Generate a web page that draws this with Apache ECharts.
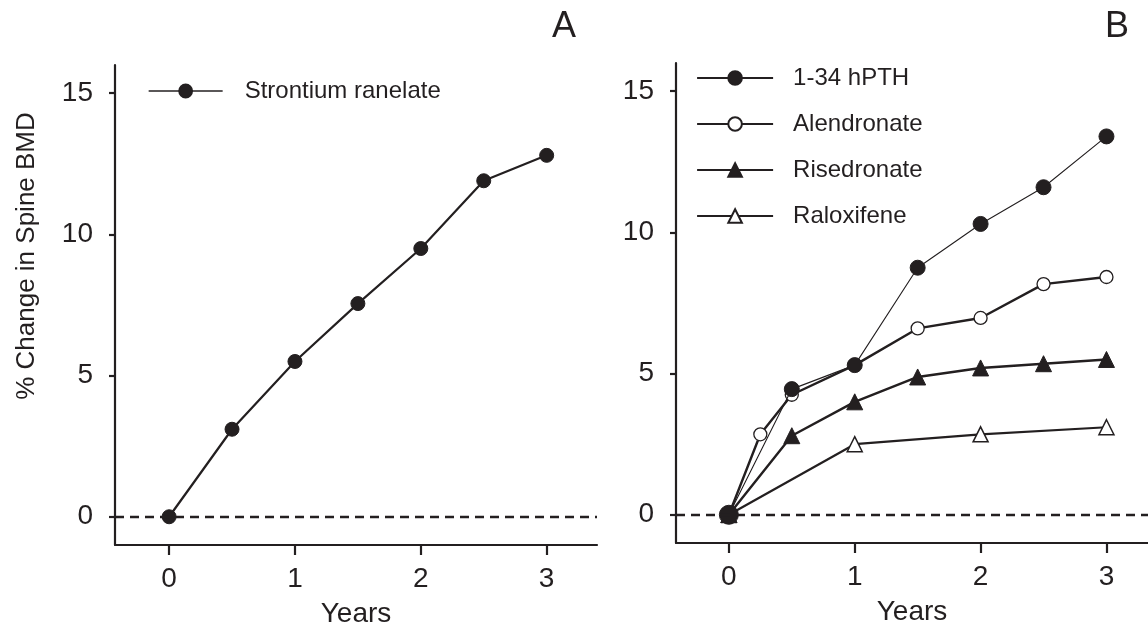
<!DOCTYPE html>
<html>
<head>
<meta charset="utf-8">
<script src="https://cdn.jsdelivr.net/npm/echarts@6/dist/echarts.min.js"></script>
<style>html,body{margin:0;padding:0;background:#fff;}#c{width:1148px;height:626px;}</style>
</head>
<body>
<div id="c"></div>
<script>
// ---- data ----
const xTicks = [0, 1, 2, 3];
const yTicks = [0, 5, 10, 15];
const yearsStr = [0, 0.5, 1, 1.5, 2, 2.5, 3];
const strontium = [0, 3.1, 5.5, 7.55, 9.5, 11.9, 12.8];
const yearsPTH = [0, 0.5, 1, 1.5, 2, 2.5, 3];
const pth = [0, 4.45, 5.3, 8.75, 10.3, 11.6, 13.4];
const yearsAlen = [0, 0.25, 0.5, 1, 1.5, 2, 2.5, 3];
const alendronate = [0, 2.85, 4.25, 5.3, 6.6, 6.97, 8.17, 8.42];
const yearsRis = [0, 0.5, 1, 1.5, 2, 2.5, 3];
const risedronate = [0, 2.8, 4.0, 4.88, 5.2, 5.35, 5.5];
const yearsRal = [0, 1, 2, 3];
const raloxifene = [0, 2.5, 2.85, 3.1];
const namesA = ['Strontium ranelate'];
const namesB = ['1-34 hPTH', 'Alendronate', 'Risedronate', 'Raloxifene'];

const INK = '#231f20';
const FONT = '"Liberation Sans", Arial, Helvetica, sans-serif';
const zip = (xs, ys) => xs.map((x, i) => [x, ys[i]]);

function xAxis(gi, min, max) {
  return {
    type: 'value', gridIndex: gi, min: min, max: max,
    name: 'Years', nameLocation: 'middle', nameGap: 55,
    nameTextStyle: { fontSize: 28, color: INK, fontFamily: FONT },
    axisLine: { show: true, onZero: false, lineStyle: { color: INK, width: 2.2 } },
    axisTick: { show: true, length: 10, lineStyle: { color: INK, width: 2.2 }, customValues: xTicks },
    axisLabel: { fontSize: 28, color: INK, fontFamily: FONT, margin: 20, customValues: xTicks },
    splitLine: { show: false }
  };
}
function yAxis(gi) {
  return {
    type: 'value', gridIndex: gi, min: -1, max: 16,
    axisLine: { show: true, onZero: false, lineStyle: { color: INK, width: 2.2 } },
    axisTick: { show: true, length: 6, lineStyle: { color: INK, width: 2.2 }, customValues: yTicks },
    axisLabel: { fontSize: 28, color: INK, fontFamily: FONT, margin: 22, customValues: yTicks },
    splitLine: { show: false }
  };
}
const zeroLine = {
  silent: true, symbol: 'none', label: { show: false },
  lineStyle: { color: INK, width: 2.4, type: [9, 6] },
  data: [{ yAxis: 0 }]
};

const option = {
  animation: false,
  backgroundColor: '#fff',
  textStyle: { fontFamily: FONT },
  grid: [
    { left: 115, right: 551, top: 65, bottom: 81, outerBoundsMode: 'none', containLabel: false },
    { left: 676, right: 0, top: 63, bottom: 83, outerBoundsMode: 'none', containLabel: false }
  ],
  xAxis: [xAxis(0, -0.43, 3.4), xAxis(1, -0.42, 3.33)],
  yAxis: [yAxis(0), yAxis(1)],
  legend: [
    {
      data: namesA, left: 148, top: 79, orient: 'vertical', padding: 0,
      itemWidth: 74, itemHeight: 16, itemGap: 22,
      textStyle: { fontSize: 24, color: INK, fontFamily: FONT, padding: [0, 0, 0, 17] },
      lineStyle: { width: 1.3 }
    },
    {
      data: namesB, left: 696, top: 66, orient: 'vertical', padding: 0,
      itemWidth: 76, itemHeight: 17, itemGap: 22,
      textStyle: { fontSize: 24, color: INK, fontFamily: FONT, padding: [0, 0, 0, 15] },
      lineStyle: { width: 2.2 }
    }
  ],
  graphic: [
    { type: 'text', x: 27, y: 256, rotation: Math.PI / 2,
      style: { text: '% Change in Spine BMD', fontSize: 26, fill: INK, fontFamily: FONT, align: 'center', verticalAlign: 'middle' } },
    { type: 'text', x: 564, y: 27,
      style: { text: 'A', fontSize: 36, fill: INK, fontFamily: FONT, align: 'center', verticalAlign: 'middle' } },
    { type: 'text', x: 1117, y: 27,
      style: { text: 'B', fontSize: 36, fill: INK, fontFamily: FONT, align: 'center', verticalAlign: 'middle' } }
  ],
  series: [
    {
      name: namesA[0], type: 'line', xAxisIndex: 0, yAxisIndex: 0,
      data: zip(yearsStr, strontium),
      symbol: 'circle', symbolSize: 14,
      lineStyle: { color: INK, width: 2.2 },
      itemStyle: { color: INK, borderColor: INK, borderWidth: 1, opacity: 1 },
      markLine: zeroLine, z: 3
    },
    {
      name: namesB[1], type: 'line', xAxisIndex: 1, yAxisIndex: 1,
      data: zip(yearsAlen, alendronate),
      symbol: 'circle', symbolSize: 13,
      lineStyle: { color: INK, width: 2.4 },
      itemStyle: { color: '#fff', borderColor: INK, borderWidth: 1.3, opacity: 1 },
      markLine: zeroLine, z: 3
    },
    {
      name: namesB[2], type: 'line', xAxisIndex: 1, yAxisIndex: 1,
      data: zip(yearsRis, risedronate),
      symbol: 'triangle', symbolSize: 16,
      lineStyle: { color: INK, width: 2.4 },
      itemStyle: { color: INK, borderColor: INK, borderWidth: 1, opacity: 1 }, z: 3
    },
    {
      name: namesB[3], type: 'line', xAxisIndex: 1, yAxisIndex: 1,
      data: zip(yearsRal, raloxifene),
      symbol: 'triangle', symbolSize: 15,
      lineStyle: { color: INK, width: 2.2 },
      itemStyle: { color: '#fff', borderColor: INK, borderWidth: 1.5, opacity: 1 }, z: 3
    },
    {
      name: namesB[0], type: 'line', xAxisIndex: 1, yAxisIndex: 1,
      data: zip(yearsPTH, pth),
      symbol: 'circle',
      symbolSize: (v, p) => (p.dataIndex === 0 ? 19 : 15),
      lineStyle: { color: INK, width: 1.1 },
      itemStyle: { color: INK, borderColor: INK, borderWidth: 1, opacity: 1 }, z: 4
    }
  ]
};
const chart = echarts.init(document.getElementById('c'), null, { renderer: 'canvas' });
chart.setOption(option);
</script>
</body>
</html>
